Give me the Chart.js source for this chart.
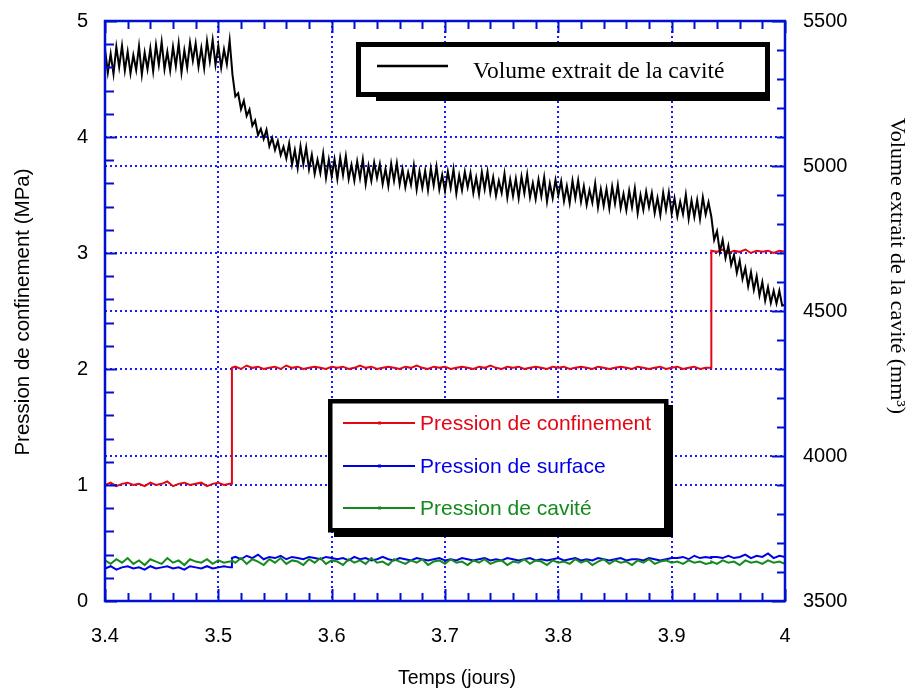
<!DOCTYPE html>
<html>
<head>
<meta charset="utf-8">
<script src="https://cdn.jsdelivr.net/npm/chart.js@4.4.1/dist/chart.umd.min.js"></script>
<style>
  html, body { margin: 0; padding: 0; background: #fff; }
  #wrap { width: 924px; height: 693px; position: relative; }
</style>
</head>
<body>
<div id="wrap"><canvas id="graphe"></canvas></div>
<script>
// temps (jours) des pressions — deux points doublés pour les marches
const tempsP = [
  3.400,3.405,3.410,3.415,3.420,3.425,3.430,3.435,3.440,3.445,3.450,3.455,3.460,3.465,3.470,3.475,3.480,3.485,3.490,3.495,3.500,3.505,3.510,
  3.512,3.512,
  3.515,3.520,3.525,3.530,3.535,3.540,3.545,3.550,3.555,3.560,3.565,3.570,3.575,3.580,3.585,3.590,3.595,3.600,
  3.605,3.610,3.615,3.620,3.625,3.630,3.635,3.640,3.645,3.650,3.655,3.660,3.665,3.670,3.675,3.680,3.685,3.690,3.695,3.700,
  3.705,3.710,3.715,3.720,3.725,3.730,3.735,3.740,3.745,3.750,3.755,3.760,3.765,3.770,3.775,3.780,3.785,3.790,3.795,3.800,
  3.805,3.810,3.815,3.820,3.825,3.830,3.835,3.840,3.845,3.850,3.855,3.860,3.865,3.870,3.875,3.880,3.885,3.890,3.895,3.900,
  3.905,3.910,3.915,3.920,3.925,3.930,
  3.935,3.935,
  3.940,3.945,3.950,3.955,3.960,3.965,3.970,3.975,3.980,3.985,3.990,3.995,4.000
];

// pression de confinement (MPa)
const pConfinement = [
  1.00,1.02,0.99,1.01,1.02,1.00,1.01,0.99,1.02,1.00,1.01,1.03,0.99,1.01,1.02,1.00,1.01,1.02,0.99,1.01,1.02,1.00,1.01,
  1.01,2.01,
  2.02,2.00,2.03,2.01,2.02,2.00,2.01,2.02,2.00,2.03,2.01,2.02,2.00,2.01,2.02,2.01,2.00,2.02,
  2.01,2.02,2.00,2.01,2.03,2.01,2.02,2.00,2.01,2.02,2.01,2.00,2.02,2.01,2.03,2.01,2.00,2.02,2.01,2.02,
  2.00,2.01,2.02,2.01,2.00,2.02,2.01,2.03,2.01,2.00,2.02,2.01,2.02,2.00,2.01,2.02,2.01,2.00,2.02,2.01,
  2.02,2.00,2.01,2.02,2.01,2.00,2.02,2.01,2.00,2.01,2.02,2.01,2.00,2.02,2.01,2.00,2.01,2.02,2.00,2.01,
  2.02,2.00,2.01,2.02,2.00,2.01,
  2.01,3.02,
  3.01,3.03,3.00,3.02,3.01,3.03,3.00,3.02,3.01,3.02,3.00,3.02,3.01
];

// pression de surface (MPa)
const pSurface = [
  0.28,0.30,0.27,0.29,0.30,0.28,0.29,0.27,0.30,0.28,0.29,0.30,0.28,0.29,0.27,0.30,0.29,0.28,0.30,0.28,0.29,0.30,0.29,
  0.29,0.37,
  0.38,0.36,0.39,0.37,0.40,0.36,0.38,0.37,0.39,0.36,0.38,0.37,0.36,0.38,0.37,0.36,0.38,0.37,
  0.36,0.37,0.35,0.38,0.36,0.37,0.35,0.36,0.38,0.36,0.35,0.37,0.36,0.35,0.37,0.36,0.35,0.36,0.37,0.35,
  0.36,0.35,0.37,0.36,0.35,0.36,0.37,0.35,0.36,0.35,0.37,0.36,0.35,0.36,0.37,0.35,0.36,0.35,0.36,0.37,
  0.35,0.36,0.37,0.35,0.36,0.35,0.37,0.36,0.35,0.36,0.37,0.35,0.36,0.36,0.35,0.37,0.36,0.35,0.36,0.37,
  0.37,0.38,0.36,0.39,0.37,0.38,
  0.37,0.38,
  0.38,0.37,0.39,0.37,0.38,0.40,0.37,0.39,0.38,0.41,0.37,0.39,0.38
];

// pression de cavité (MPa)
const pCavite = [
  0.35,0.32,0.36,0.33,0.37,0.32,0.35,0.31,0.36,0.34,0.32,0.37,0.33,0.35,0.31,0.36,0.34,0.33,0.36,0.32,0.35,0.33,0.34,
  0.34,0.35,
  0.33,0.37,0.32,0.36,0.34,0.31,0.36,0.33,0.37,0.32,0.35,0.34,0.31,0.36,0.33,0.37,0.32,0.35,
  0.34,0.31,0.36,0.33,0.35,0.32,0.37,0.33,0.34,0.31,0.36,0.34,0.32,0.35,0.33,0.36,0.31,0.34,0.35,0.32,
  0.36,0.33,0.34,0.31,0.35,0.33,0.36,0.32,0.34,0.35,0.31,0.34,0.33,0.36,0.32,0.35,0.34,0.31,0.35,0.33,
  0.34,0.32,0.36,0.33,0.35,0.31,0.34,0.36,0.32,0.35,0.33,0.34,0.31,0.35,0.33,0.36,0.32,0.34,0.35,0.33,
  0.34,0.32,0.35,0.33,0.34,0.32,
  0.33,0.34,
  0.32,0.35,0.33,0.34,0.31,0.35,0.33,0.34,0.32,0.35,0.33,0.34,0.32
];

// temps (jours) du volume, échantillonnage plus fin
const tempsV = [
  3.4000,3.4025,3.4050,3.4075,3.4100,3.4125,3.4150,3.4175,3.4200,3.4225,3.4250,3.4275,3.4300,3.4325,3.4350,3.4375,3.4400,3.4425,3.4450,3.4475,
  3.4500,3.4525,3.4550,3.4575,3.4600,3.4625,3.4650,3.4675,3.4700,3.4725,3.4750,3.4775,3.4800,3.4825,3.4850,3.4875,3.4900,3.4925,3.4950,3.4975,
  3.5000,3.5025,3.5050,3.5075,3.5100,3.5125,3.5150,3.5175,3.5200,3.5225,3.5250,3.5275,3.5300,3.5325,3.5350,3.5375,3.5400,3.5425,3.5450,3.5475,
  3.5500,3.5525,3.5550,3.5575,3.5600,3.5625,3.5650,3.5675,3.5700,3.5725,3.5750,3.5775,3.5800,3.5825,3.5850,3.5875,3.5900,3.5925,3.5950,3.5975,
  3.6000,3.6025,3.6050,3.6075,3.6100,3.6125,3.6150,3.6175,3.6200,3.6225,3.6250,3.6275,3.6300,3.6325,3.6350,3.6375,3.6400,3.6425,3.6450,3.6475,
  3.6500,3.6525,3.6550,3.6575,3.6600,3.6625,3.6650,3.6675,3.6700,3.6725,3.6750,3.6775,3.6800,3.6825,3.6850,3.6875,3.6900,3.6925,3.6950,3.6975,
  3.7000,3.7025,3.7050,3.7075,3.7100,3.7125,3.7150,3.7175,3.7200,3.7225,3.7250,3.7275,3.7300,3.7325,3.7350,3.7375,3.7400,3.7425,3.7450,3.7475,
  3.7500,3.7525,3.7550,3.7575,3.7600,3.7625,3.7650,3.7675,3.7700,3.7725,3.7750,3.7775,3.7800,3.7825,3.7850,3.7875,3.7900,3.7925,3.7950,3.7975,
  3.8000,3.8025,3.8050,3.8075,3.8100,3.8125,3.8150,3.8175,3.8200,3.8225,3.8250,3.8275,3.8300,3.8325,3.8350,3.8375,3.8400,3.8425,3.8450,3.8475,
  3.8500,3.8525,3.8550,3.8575,3.8600,3.8625,3.8650,3.8675,3.8700,3.8725,3.8750,3.8775,3.8800,3.8825,3.8850,3.8875,3.8900,3.8925,3.8950,3.8975,
  3.9000,3.9025,3.9050,3.9075,3.9100,3.9125,3.9150,3.9175,3.9200,3.9225,3.9250,3.9275,3.9300,3.9325,3.9350,3.9375,3.9400,3.9425,3.9450,3.9475,
  3.9500,3.9525,3.9550,3.9575,3.9600,3.9625,3.9650,3.9675,3.9700,3.9725,3.9750,3.9775,3.9800,3.9825,3.9850,3.9875,3.9900,3.9925,3.9950,3.9975,
  4.0000
];

// volume extrait de la cavité (mm3), axe de droite
const volume = [
  5403,5322,5387,5317,5411,5341,5415,5329,5394,5319,5382,5331,5413,5315,5391,5334,5406,5327,5418,5349,
  5428,5334,5394,5329,5411,5344,5423,5322,5399,5339,5426,5363,5423,5342,5407,5337,5431,5361,5435,5349,
  5414,5339,5402,5351,5433,5314,5240,5251,5196,5225,5173,5195,5139,5157,5107,5128,5093,5125,5068,5097,
  5055,5086,5038,5066,5026,5078,5005,5055,4993,5068,5006,5064,4989,5039,4973,5022,4976,5043,4959,5022,
  4964,5023,4955,5029,4969,5034,4955,5004,4949,5016,4958,5023,4938,5001,4949,5012,4959,5007,4938,4990,
  4931,5008,4949,5010,4937,4990,4927,4978,4935,5002,4919,4982,4925,4984,4917,4992,4933,4998,4919,4969,
  4914,4981,4924,4989,4905,4968,4917,4980,4927,4976,4907,4960,4902,4979,4920,4981,4908,4961,4898,4949,
  4907,4974,4891,4954,4897,4956,4889,4964,4906,4971,4892,4941,4886,4953,4896,4961,4877,4940,4889,4952,
  4899,4948,4879,4931,4872,4949,4889,4950,4877,4930,4866,4917,4874,4940,4857,4920,4863,4921,4854,4929,
  4870,4934,4855,4904,4848,4915,4858,4923,4837,4900,4849,4912,4858,4907,4838,4890,4831,4908,4849,4909,
  4836,4889,4826,4877,4834,4901,4818,4881,4824,4883,4817,4892,4833,4875,4825,4745,4775,4704,4745,4683,
  4725,4659,4693,4632,4674,4610,4648,4585,4634,4573,4620,4554,4600,4536,4582,4528,4570,4526,4570,4519,
  4521
];

const xTicks = [3.4, 3.5, 3.6, 3.7, 3.8, 3.9, 4.0];
const xLabels = ['3.4', '3.5', '3.6', '3.7', '3.8', '3.9', '4'];
const yTicks = [0, 1, 2, 3, 4, 5];
const yLabels = ['0', '1', '2', '3', '4', '5'];
const y2Ticks = [3500, 4000, 4500, 5000, 5500];
const y2Labels = ['3500', '4000', '4500', '5000', '5500'];

const ROUGE = '#e30613';
const BLEU = '#0000e6';
const VERT = '#138a1c';
const AXE = '#0010d0';
const SANS = "'Liberation Sans', Arial, sans-serif";
const SERIF = "'Liberation Serif', 'Times New Roman', serif";

const points = (ts, vals) => ts.map((t, i) => ({ x: t, y: vals[i] }));
const hidden = 'rgba(0,0,0,0)';

function gridFor(ends) {
    return {
        color: c => (c.tick && ends.includes(c.tick.value)) ? hidden : '#1a1aff',
        lineWidth: 2,
        drawTicks: false
    };
}

// largeurs fixes des axes pour caler la zone de tracé
function fixSize(size) {
    return s => {
        if (s.isHorizontal()) s.height = size; else s.width = size;
        s.paddingTop = 0; s.paddingBottom = 0;
        s.paddingLeft = 0; s.paddingRight = 0;
    };
}

const decor = {
    id: 'decor',
    afterDraw(chart) {
        const { ctx, chartArea: a, scales } = chart;
        const sx = scales.x, sy = scales.y, sy2 = scales.y2;
        ctx.save();

        // ticks vers l'intérieur
        ctx.strokeStyle = AXE;
        ctx.lineWidth = 2;
        ctx.beginPath();
        for (let k = 0; k <= 30; k++) {
            const px = Math.round(sx.getPixelForValue(3.4 + k * 0.02)) + 0.5;
            const len = k % 5 === 0 ? 12 : 8;
            ctx.moveTo(px, a.bottom); ctx.lineTo(px, a.bottom - len);
            ctx.moveTo(px, a.top); ctx.lineTo(px, a.top + len);
        }
        for (let k = 0; k <= 25; k++) {
            const py = Math.round(sy.getPixelForValue(k * 0.2)) + 0.5;
            const len = k % 5 === 0 ? 12 : 9;
            ctx.moveTo(a.left, py); ctx.lineTo(a.left + len, py);
        }
        for (let k = 0; k <= 20; k++) {
            const py = Math.round(sy2.getPixelForValue(3500 + k * 100)) + 0.5;
            const len = k % 5 === 0 ? 13 : 8;
            ctx.moveTo(a.right, py); ctx.lineTo(a.right - len, py);
        }
        ctx.stroke();

        // cadre
        ctx.lineWidth = 2.5;
        ctx.strokeRect(a.left, a.top, a.right - a.left, a.bottom - a.top);

        // légende du volume
        ctx.fillStyle = '#000';
        ctx.fillRect(376, 92, 394, 9);
        ctx.fillStyle = '#fff';
        ctx.fillRect(358, 44, 410, 50);
        ctx.strokeStyle = '#000';
        ctx.lineWidth = 5;
        ctx.strokeRect(358.5, 44.5, 409, 50);
        ctx.lineWidth = 2.5;
        ctx.beginPath();
        ctx.moveTo(377, 66); ctx.lineTo(448, 66);
        ctx.stroke();
        ctx.fillStyle = '#000';
        ctx.font = '23.5px ' + SERIF;
        ctx.textAlign = 'left';
        ctx.textBaseline = 'alphabetic';
        ctx.fillText('Volume extrait de la cavité', 473, 78);

        // légende des pressions
        ctx.fillStyle = '#000';
        ctx.fillRect(334, 405, 339, 132);
        ctx.fillStyle = '#fff';
        ctx.fillRect(330, 401, 336, 129);
        ctx.lineWidth = 4.5;
        ctx.strokeRect(330.25, 401.25, 336, 129);
        const items = [
            ['Pression de confinement', ROUGE, 423],
            ['Pression de surface', BLEU, 466],
            ['Pression de cavité', VERT, 508]
        ];
        ctx.font = '21px ' + SANS;
        ctx.textBaseline = 'middle';
        items.forEach(([txt, col, y]) => {
            ctx.strokeStyle = col;
            ctx.lineWidth = 2;
            ctx.beginPath();
            ctx.moveTo(343, y); ctx.lineTo(415, y);
            ctx.stroke();
            ctx.fillStyle = col;
            ctx.fillRect(378, y - 1.5, 3, 3);
            ctx.fillText(txt, 420, y + 1);
        });

        // titres des axes
        ctx.fillStyle = '#000';
        ctx.textAlign = 'center';
        ctx.textBaseline = 'alphabetic';
        ctx.font = '19.5px ' + SANS;
        ctx.fillText('Temps (jours)', 457, 684);

        ctx.save();
        ctx.translate(29, 312);
        ctx.rotate(-Math.PI / 2);
        ctx.font = '20.5px ' + SANS;
        ctx.fillText('Pression de confinement (MPa)', 0, 0);
        ctx.restore();

        ctx.save();
        ctx.translate(891, 266);
        ctx.rotate(Math.PI / 2);
        ctx.font = '22px ' + SERIF;
        ctx.fillText('Volume extrait de la cavité (mm³)', 0, 0);
        ctx.restore();

        ctx.restore();
    }
};

new Chart(document.getElementById('graphe'), {
    type: 'line',
    data: {
        datasets: [
            { label: 'Volume extrait de la cavité', data: points(tempsV, volume), yAxisID: 'y2',
              borderColor: '#000', borderWidth: 2 },
            { label: 'Pression de cavité', data: points(tempsP, pCavite), yAxisID: 'y',
              borderColor: VERT, borderWidth: 2 },
            { label: 'Pression de surface', data: points(tempsP, pSurface), yAxisID: 'y',
              borderColor: BLEU, borderWidth: 2 },
            { label: 'Pression de confinement', data: points(tempsP, pConfinement), yAxisID: 'y',
              borderColor: ROUGE, borderWidth: 2 }
        ]
    },
    options: {
        responsive: true,
        maintainAspectRatio: false,
        animation: false,
        elements: { point: { radius: 0 }, line: { tension: 0, fill: false } },
        layout: { padding: { top: 21, left: 0, right: 0, bottom: 0 } },
        plugins: { legend: { display: false }, tooltip: { enabled: false } },
        scales: {
            x: {
                type: 'linear', min: 3.4, max: 4.0, position: 'bottom',
                afterBuildTicks: s => { s.ticks = xTicks.map(v => ({ value: v })); },
                afterFit: fixSize(92),
                ticks: {
                    callback: (v, i) => xLabels[i],
                    font: { family: SANS, size: 20 }, color: '#000',
                    padding: 23, maxRotation: 0, autoSkip: false
                },
                grid: gridFor([3.4, 4.0]),
                border: { display: false, dash: [2, 3] }
            },
            y: {
                type: 'linear', min: 0, max: 5, position: 'left',
                afterBuildTicks: s => { s.ticks = yTicks.map(v => ({ value: v })); },
                afterFit: fixSize(105),
                ticks: {
                    callback: (v, i) => yLabels[i],
                    font: { family: SANS, size: 20 }, color: '#000', padding: 17
                },
                grid: gridFor([0, 5]),
                border: { display: false, dash: [2, 3] }
            },
            y2: {
                type: 'linear', min: 3500, max: 5500, position: 'right',
                afterBuildTicks: s => { s.ticks = y2Ticks.map(v => ({ value: v })); },
                afterFit: fixSize(139),
                ticks: {
                    callback: (v, i) => y2Labels[i],
                    font: { family: SANS, size: 20 }, color: '#000', padding: 18
                },
                grid: gridFor([3500, 5500]),
                border: { display: false, dash: [2, 3] }
            }
        }
    },
    plugins: [decor]
});
</script>
</body>
</html>
